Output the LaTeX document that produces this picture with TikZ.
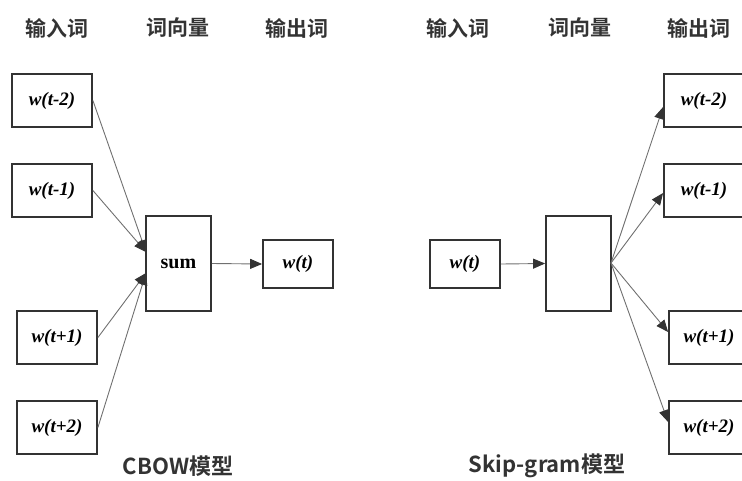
\documentclass[tikz,border=0pt]{standalone}
\usepackage{fontspec}
\setmainfont{Liberation Serif}
\newfontfamily\cjkb{Noto Sans CJK SC Bold}
\usetikzlibrary{arrows.meta}
\definecolor{boxc}{HTML}{333333}
\definecolor{linec}{HTML}{707070}
\tikzset{
  wbox/.style={draw=boxc, line width=1.8pt, minimum width=80pt, minimum height=53pt, inner sep=0pt, font=\fontsize{19}{22}\selectfont\bfseries\itshape},
  midbox/.style={draw=boxc, line width=1.8pt, minimum width=65pt, minimum height=95pt, inner sep=0pt, font=\fontsize{20}{24}\selectfont\bfseries},
  obox/.style={draw=boxc, line width=1.8pt, minimum width=70pt, minimum height=48pt, inner sep=0pt, font=\fontsize{19}{22}\selectfont\bfseries\itshape},
  hdr/.style={font=\cjkb\fontsize{21}{25}\selectfont, text=boxc},
  ttl/.style={font=\cjkb\fontsize{22}{26}\selectfont, text=boxc},
  conn/.style={draw=linec, line width=0.9pt, -{Triangle[length=12pt,width=10pt,color=boxc]}},
}
\begin{document}
\begin{tikzpicture}[x=1pt,y=-1pt]
\useasboundingbox (0,0) rectangle (742,480);
\clip (0,0) rectangle (742,480);
% headers
\node[hdr] (h1) at (57,28) {输入词};
\node[hdr] (h2) at (178,28) {词向量};
\node[hdr] (h3) at (297,28) {输出词};
\node[hdr] (h4) at (458,28) {输入词};
\node[hdr] (h5) at (580,28) {词向量};
\node[hdr] (h6) at (699,28) {输出词};
% CBOW
\node[wbox] (i1) at (52,100.5) {w(t-2)};
\node[wbox] (i2) at (52,190.5) {w(t-1)};
\node[wbox] (i3) at (57,337.5) {w(t+1)};
\node[wbox] (i4) at (57,427.5) {w(t+2)};
\node[midbox] (sum) at (178.5,263.5) {sum};
\node[obox] (o) at (298,264) {w(t)};
\coordinate (ta) at (146,252);
\coordinate (tb) at (146,273);
\draw[conn] (i1.east) -- (ta);
\draw[conn] (i2.east) -- (ta);
\draw[conn] (i3.east) -- (tb);
\draw[conn] (i4.east) -- (tb);
\draw[conn] (sum.east) -- (o.west);
\node[ttl] (cb) at (178,466) {CBOW模型};
% Skip-gram
\node[obox] (sw) at (465,264) {w(t)};
\node[midbox] (mid) at (578.5,263.5) {};
\node[wbox] (r1) at (704,100.5) {w(t-2)};
\node[wbox] (r2) at (704,190.5) {w(t-1)};
\node[wbox] (r3) at (709,337.5) {w(t+1)};
\node[wbox] (r4) at (709,427.5) {w(t+2)};
\coordinate (so) at (611,263);
\draw[conn] (sw.east) -- (mid.west);
\draw[conn] (so) -- ([yshift=-6.5pt]r1.west);
\draw[conn] (so) -- ([yshift=-2.5pt]r2.west);
\draw[conn] (so) -- ([yshift=5.5pt]r3.west);
\draw[conn] (so) -- ([yshift=5.5pt]r4.west);
\node[ttl] (sg) at (547,466) {Skip-gram模型};
\end{tikzpicture}
\end{document}
